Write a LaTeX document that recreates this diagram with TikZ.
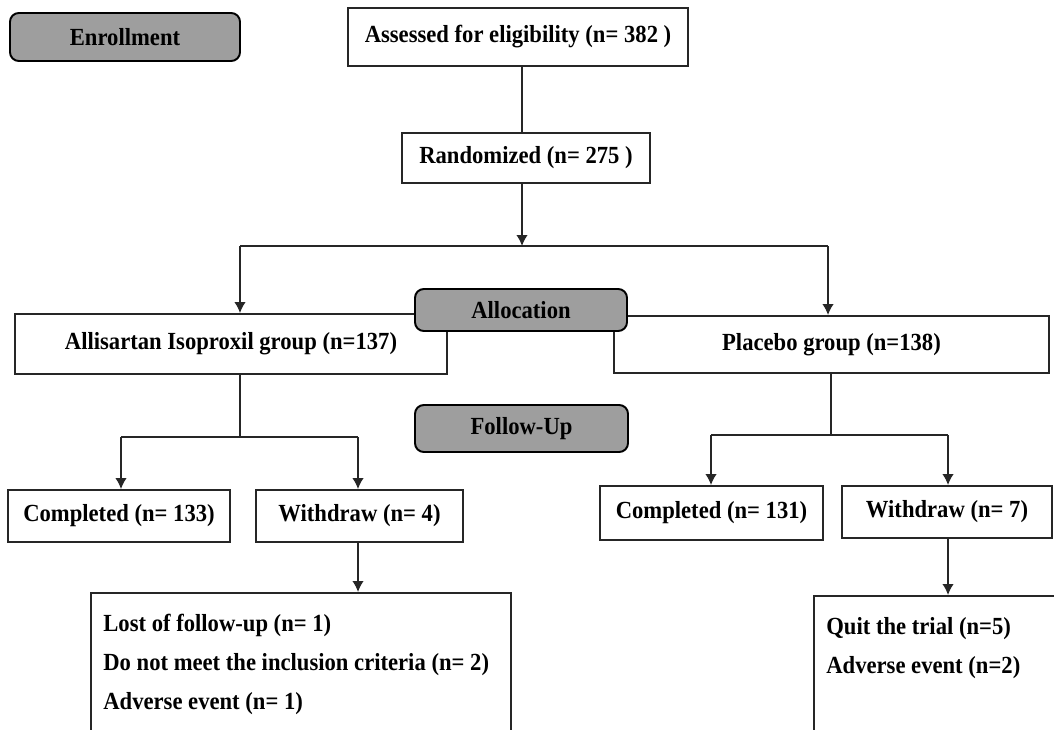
\documentclass[tikz,border=0pt]{standalone}
\usepackage{fontspec}
\setmainfont[FakeStretch=0.92]{Liberation Serif}
\usetikzlibrary{arrows.meta,positioning}
\definecolor{phasegray}{HTML}{9E9E9E}
\newcommand{\flowfont}{\fontsize{14}{22}\selectfont\bfseries}
\tikzset{
  phase/.style={rectangle,rounded corners=5pt,draw=black,line width=1.1pt,fill=phasegray,align=center,font=\flowfont},
  stagebox/.style={rectangle,draw=black!85,line width=1.1pt,fill=white,align=center,font=\flowfont},
  boxtext/.style={anchor=north west,align=left,inner sep=0pt,font=\flowfont},
  link/.style={line width=0.9pt,black!85},
  arrow/.style={-{Latex[length=2.2mm,width=2.3mm]},line width=0.9pt,black!85}
}

\begin{document}
\begin{tikzpicture}
  \clip (0,0) rectangle (21.08,-14.58);
  \node[phase,minimum width=4.6cm,minimum height=0.96cm] (enroll) at (2.5,-0.74) {Enrollment};
  \node[stagebox,minimum width=6.8cm,minimum height=1.16cm] (assess) at (10.36,-0.74) {Assessed for eligibility (n= 382 )};
  \node[stagebox,minimum width=4.96cm,minimum height=1cm] (random) at (10.52,-3.16) {Randomized (n= 275 )};
  \coordinate (split) at (10.44,-4.92);
  \coordinate (splitL) at (4.8,-4.92);
  \coordinate (splitR) at (16.56,-4.92);
  \draw[link] (assess.south -| split) -- (random.north -| split);
  \draw[arrow] (random.south -| split) -- (split);

  \node[stagebox,minimum width=8.64cm,minimum height=1.2cm] (allis) at (4.62,-6.88) {Allisartan Isoproxil group (n=137)};
  \node[stagebox,minimum width=8.7cm,minimum height=1.14cm] (placebo) at (16.63,-6.89) {Placebo group (n=138)};
  \draw[link] (splitL) -- (splitR);
  \draw[arrow] (splitL) -- (splitL |- allis.north);
  \draw[arrow] (splitR) -- (splitR |- placebo.north);
  \node[phase,minimum width=4.24cm,minimum height=0.84cm] (alloc) at (10.42,-6.2) {Allocation};

  \coordinate (leftfork) at (4.8,-8.74);
  \coordinate (leftA) at (2.42,-8.74);
  \coordinate (leftB) at (7.16,-8.74);
  \coordinate (rightfork) at (16.62,-8.7);
  \coordinate (rightA) at (14.22,-8.7);
  \coordinate (rightB) at (18.96,-8.7);
  \node[phase,minimum width=4.26cm,minimum height=0.94cm] (follow) at (10.43,-8.57) {Follow-Up};
  \node[stagebox,minimum width=4.44cm,minimum height=1.04cm] (comp1) at (2.38,-10.32) {Completed (n= 133)};
  \node[stagebox,minimum width=4.14cm,minimum height=1.04cm] (with1) at (7.19,-10.32) {Withdraw (n= 4)};
  \node[stagebox,minimum width=4.46cm,minimum height=1.08cm] (comp2) at (14.23,-10.26) {Completed (n= 131)};
  \node[stagebox,minimum width=4.2cm,minimum height=1.04cm] (with2) at (18.94,-10.24) {Withdraw (n= 7)};
  \draw[link] (allis.south -| leftfork) -- (leftfork);
  \draw[link] (leftA) -- (leftB);
  \draw[arrow] (leftA) -- (leftA |- comp1.north);
  \draw[arrow] (leftB) -- (leftB |- with1.north);
  \draw[link] (placebo.south -| rightfork) -- (rightfork);
  \draw[link] (rightA) -- (rightB);
  \draw[arrow] (rightA) -- (rightA |- comp2.north);
  \draw[arrow] (rightB) -- (rightB |- with2.north);

  \node[stagebox,anchor=north west,minimum width=8.4cm,minimum height=3.4cm,
    label={[boxtext,xshift=0.26cm,yshift=-0.44cm]north west:Lost of follow-up (n= 1)\\Do not meet the inclusion criteria (n= 2)\\Adverse event (n= 1)}] (lost) at (1.8,-11.84) {};
  \node[stagebox,anchor=north west,minimum width=5.5cm,minimum height=3cm,
    label={[boxtext,xshift=0.26cm,yshift=-0.44cm]north west:Quit the trial (n=5)\\Adverse event (n=2)}] (quit) at (16.26,-11.9) {};
  \draw[arrow] (leftB |- with1.south) -- (leftB |- lost.north);
  \draw[arrow] (rightB |- with2.south) -- (rightB |- quit.north);
\end{tikzpicture}
\end{document}
